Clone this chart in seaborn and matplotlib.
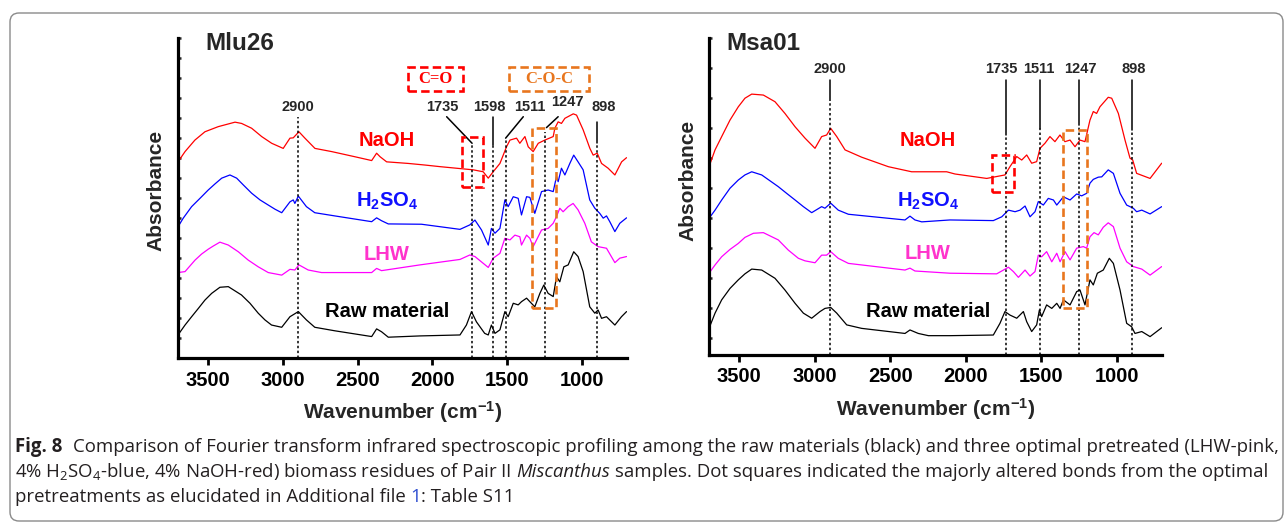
import numpy as np
import matplotlib
matplotlib.use('Agg')
import matplotlib.pyplot as plt
import seaborn as sns
from matplotlib.patches import Rectangle, FancyBboxPatch
from matplotlib.transforms import IdentityTransform
from matplotlib import font_manager

# ---------------- data (wavenumber cm-1, stacked absorbance a.u.) ----------------
mlu_naoh_wn = [3700, 3653, 3587, 3520, 3431, 3319, 3275, 3208, 3141, 3074, 2997, 2952, 2930, 2892, 2852,
               2785, 2673, 2519, 2406, 2373, 2350, 2306, 2161, 2050, 1950, 1727, 1661, 1627, 1594, 1549,
               1505, 1482, 1438, 1416, 1382, 1360, 1327, 1293, 1249, 1193, 1182, 1160, 1138, 1115, 1059,
               1037, 993, 948, 926, 899, 870, 826, 781, 736, 703]
mlu_naoh = [6.13, 6.45, 6.81, 7.07, 7.23, 7.37, 7.33, 7.18, 6.92, 6.71, 6.55, 6.87, 6.88, 7.07, 6.87,
            6.55, 6.45, 6.29, 6.17, 6.40, 6.29, 6.13, 6.08, 6.03, 5.98, 5.88, 5.82, 5.62, 5.82, 6.08,
            6.60, 6.81, 6.87, 6.71, 6.92, 6.60, 6.45, 6.71, 6.81, 6.92, 7.18, 7.38, 7.33, 7.49, 7.63,
            7.59, 7.13, 6.55, 6.34, 6.40, 6.08, 5.93, 5.72, 6.13, 6.26]

mlu_h2so4_wn = [3700, 3665, 3609, 3553, 3498, 3453, 3408, 3353, 3308, 3264, 3208, 3152, 3097, 3052, 3007,
                2952, 2930, 2919, 2896, 2842, 2786, 2652, 2406, 2373, 2340, 2295, 2073, 1816, 1750, 1716,
                1672, 1627, 1606, 1582, 1549, 1516, 1494, 1460, 1427, 1405, 1371, 1349, 1316, 1271, 1227,
                1193, 1171, 1160, 1138, 1115, 1082, 1056, 1027, 993, 949, 915, 882, 859, 837, 815,
                781, 748, 703]
mlu_h2so4 = [4.10, 4.37, 4.73, 4.99, 5.25, 5.44, 5.62, 5.72, 5.62, 5.41, 5.15, 4.94, 4.78, 4.65, 4.54,
             4.88, 4.94, 4.83, 5.06, 4.73, 4.54, 4.44, 4.26, 4.38, 4.29, 4.19, 4.18, 4.02, 4.16, 4.31,
             4.00, 3.53, 4.05, 3.90, 4.05, 4.94, 4.73, 5.04, 4.99, 4.47, 5.04, 5.02, 4.52, 5.20, 5.25,
             5.20, 5.67, 5.51, 5.93, 5.72, 6.08, 6.34, 6.13, 5.88, 4.94, 4.68, 4.52, 4.37, 4.44, 4.26,
             3.95, 4.21, 4.38]

mlu_lhw_wn = [3700, 3653, 3586, 3542, 3498, 3464, 3420, 3364, 3297, 3231, 3164, 3097, 3007, 2952, 2919,
              2892, 2830, 2741, 2406, 2373, 2340, 2083, 1816, 1750, 1716, 1627, 1594, 1549, 1516, 1482,
              1449, 1416, 1405, 1371, 1349, 1327, 1271, 1227, 1193, 1171, 1149, 1127, 1093, 1060, 1027,
              982, 938, 893, 837, 781, 748, 703]
mlu_lhw = [2.67, 2.70, 3.06, 3.25, 3.40, 3.50, 3.62, 3.53, 3.32, 3.06, 2.85, 2.67, 2.59, 2.77, 2.75,
           2.91, 2.75, 2.67, 2.67, 2.80, 2.73, 2.91, 3.08, 3.22, 3.17, 2.83, 3.12, 3.27, 3.74, 3.69,
           3.84, 3.79, 3.53, 3.84, 3.74, 3.48, 4.00, 4.05, 4.21, 4.42, 4.68, 4.57, 4.73, 4.83, 4.63,
           4.21, 3.63, 3.48, 3.43, 2.98, 3.12, 3.17]

mlu_raw_wn = [3700, 3653, 3609, 3564, 3520, 3475, 3420, 3364, 3276, 3219, 3164, 3119, 3075, 3007, 2952,
              2896, 2842, 2786, 2652, 2406, 2373, 2340, 2295, 2083, 1816, 1773, 1739, 1706, 1651, 1627,
              1606, 1582, 1549, 1516, 1494, 1460, 1427, 1405, 1371, 1349, 1316, 1282, 1256, 1227, 1193,
              1171, 1149, 1122, 1093, 1056, 1027, 993, 949, 915, 893, 870, 837, 781, 737, 703]
mlu_raw = [0.72, 1.03, 1.29, 1.55, 1.81, 2.02, 2.21, 2.23, 1.97, 1.71, 1.40, 1.19, 1.03, 0.96, 1.29,
           1.45, 1.19, 0.96, 0.85, 0.67, 0.91, 0.82, 0.65, 0.69, 0.72, 1.03, 1.45, 1.13, 0.77, 0.72,
           1.03, 0.77, 0.88, 1.45, 1.29, 1.71, 1.66, 1.76, 1.87, 1.76, 1.60, 2.02, 2.28, 2.02, 1.92,
           2.54, 2.38, 2.85, 2.91, 3.32, 3.17, 2.70, 1.60, 1.40, 1.50, 1.24, 1.29, 1.03, 1.29, 1.45]

msa_naoh_wn = [3700, 3660, 3616, 3561, 3506, 3462, 3417, 3340, 3263, 3197, 3130, 3064, 2998, 2954, 2921,
               2894, 2854, 2799, 2689, 2512, 2358, 2126, 2071, 1861, 1740, 1707, 1662, 1629, 1596, 1563,
               1530, 1508, 1475, 1442, 1409, 1376, 1343, 1309, 1276, 1243, 1210, 1177, 1155, 1133, 1111,
               1056, 1033, 989, 945, 912, 894, 868, 779, 702]
msa_naoh = [5.94, 6.47, 6.89, 7.41, 7.83, 8.10, 8.23, 8.20, 7.99, 7.62, 7.20, 6.84, 6.52, 6.89, 6.94,
            7.15, 6.89, 6.47, 6.24, 5.94, 5.78, 5.78, 5.71, 5.57, 5.68, 5.94, 6.26, 6.15, 6.31, 6.05,
            6.10, 6.52, 6.68, 6.89, 6.73, 6.94, 6.73, 6.78, 6.57, 6.78, 6.73, 7.41, 7.68, 7.62, 7.83,
            8.13, 8.10, 7.62, 6.78, 6.21, 6.15, 5.73, 5.57, 6.05]

msa_h2so4_wn = [3700, 3660, 3616, 3561, 3506, 3462, 3417, 3351, 3241, 3186, 3130, 3075, 3020, 2954, 2932,
                2894, 2844, 2777, 2402, 2369, 2336, 2291, 2104, 1817, 1761, 1717, 1673, 1640, 1607, 1574,
                1541, 1519, 1486, 1453, 1419, 1397, 1353, 1309, 1265, 1232, 1199, 1177, 1155, 1122, 1099,
                1056, 1022, 978, 934, 890, 868, 834, 779, 702]
msa_h2so4 = [4.31, 4.57, 4.89, 5.26, 5.52, 5.68, 5.78, 5.68, 5.31, 5.10, 4.89, 4.68, 4.49, 4.68, 4.63,
             4.79, 4.57, 4.44, 4.26, 4.38, 4.26, 4.20, 4.26, 4.24, 4.36, 4.57, 4.52, 4.57, 4.70, 4.36,
             4.52, 4.84, 4.73, 4.94, 4.89, 4.73, 4.99, 4.89, 5.08, 5.02, 5.10, 5.42, 5.54, 5.61, 5.62,
             5.84, 5.73, 5.10, 4.73, 4.63, 4.52, 4.57, 4.45, 4.68]

msa_lhw_wn = [3700, 3660, 3616, 3561, 3506, 3462, 3406, 3340, 3241, 3175, 3108, 3064, 2998, 2954, 2921,
              2894, 2844, 2777, 2402, 2369, 2336, 2104, 1795, 1750, 1717, 1684, 1651, 1607, 1574, 1541,
              1519, 1497, 1464, 1430, 1397, 1375, 1342, 1309, 1265, 1221, 1199, 1177, 1150, 1122, 1089,
              1056, 1022, 978, 934, 890, 834, 779, 702]
msa_lhw = [2.58, 2.84, 3.10, 3.33, 3.52, 3.71, 3.84, 3.86, 3.63, 3.31, 3.05, 2.97, 2.91, 3.15, 3.15,
           3.26, 3.05, 2.89, 2.68, 2.74, 2.65, 2.58, 2.56, 2.68, 2.77, 2.63, 2.45, 2.68, 2.49, 2.63,
           3.15, 3.10, 3.26, 2.94, 3.21, 2.94, 3.26, 3.00, 3.37, 3.42, 3.37, 3.73, 3.86, 3.79, 4.03,
           4.17, 4.05, 3.37, 2.94, 2.79, 2.71, 2.52, 2.79]

msa_raw_wn = [3700, 3660, 3616, 3561, 3506, 3462, 3417, 3351, 3263, 3197, 3130, 3075, 3020, 2965, 2932,
              2894, 2854, 2788, 2689, 2402, 2369, 2314, 2247, 2104, 1817, 1773, 1740, 1707, 1662, 1618,
              1596, 1563, 1530, 1512, 1497, 1464, 1430, 1397, 1375, 1353, 1309, 1265, 1243, 1210, 1177,
              1155, 1128, 1089, 1049, 1022, 978, 934, 901, 879, 834, 779, 702]
msa_raw = [0.84, 1.32, 1.74, 2.10, 2.37, 2.56, 2.71, 2.68, 2.42, 2.05, 1.63, 1.32, 1.16, 1.37, 1.47,
           1.50, 1.32, 0.95, 0.84, 0.68, 0.79, 0.68, 0.61, 0.61, 0.63, 1.00, 1.37, 1.26, 1.16, 1.37,
           1.05, 0.74, 0.95, 1.42, 1.21, 1.58, 1.47, 1.63, 1.47, 1.74, 1.58, 2.00, 2.05, 1.58, 2.37,
           2.21, 2.58, 2.68, 3.05, 2.89, 2.05, 1.00, 0.89, 0.68, 0.74, 0.58, 0.86]

series_names = ['NaOH', 'H$_2$SO$_4$', 'LHW', 'Raw material']
line_colors = ['#ff0000', '#0000ff', '#ff00ff', '#000000']
text_colors = ['#ff0000', '#1010ff', '#ff33cc', '#000000']
xtick_vals = [3500, 3000, 2500, 2000, 1500, 1000]

mlu_peaks = [2900, 1735, 1598, 1511, 1247, 898]
msa_peaks = [2900, 1735, 1511, 1247, 898]

RED = '#ff0000'
ORANGE = '#e8761e'

# ---------------- figure ----------------
sns.set_style('ticks')
plt.rcParams['font.family'] = ['Liberation Sans', 'DejaVu Sans']
plt.rcParams['mathtext.default'] = 'regular'

W, H = 1287, 526
fig = plt.figure(figsize=(W / 100, H / 100), dpi=100)


def px_axes(l, t, r, b):
    return fig.add_axes([l / W, 1 - b / H, (r - l) / W, (b - t) / H])


def style_axes(ax, yticks, ylab_xy):
    ax.set_xlim(3700, 700)
    ax.set_ylim(0, 10)
    ax.set_xticks(xtick_vals)
    ax.set_xticklabels([str(v) for v in xtick_vals], fontweight='bold', fontsize=14.5)
    ax.set_yticks(yticks)
    ax.set_yticklabels([])
    for s in ['top', 'right']:
        ax.spines[s].set_visible(False)
    for s in ['left', 'bottom']:
        ax.spines[s].set_linewidth(2.3)
        ax.spines[s].set_color('black')
    ax.tick_params(axis='x', direction='out', length=5, width=2, pad=4, colors='black')
    ax.tick_params(axis='y', direction='in', length=2.2, width=1.8)
    ax.set_xlabel('Wavenumber (cm$^{-1}$)', fontsize=15, fontweight='bold', labelpad=7)
    ax.set_ylabel('Absorbance', fontsize=15, fontweight='bold')
    ax.yaxis.set_label_coords(*ylab_xy)


def draw_spectra(ax, data):
    for (wn, ab), col in zip(data, line_colors):
        sns.lineplot(x=wn, y=ab, ax=ax, color=col, lw=0.9, sort=False, legend=False)


def draw_names(ax, x, ys):
    for name, y, col in zip(series_names, ys, text_colors):
        ax.text(x, y, name, color=col, fontsize=14.5, fontweight='bold', ha='center', va='center')


def dash_box(ax, x0, x1, y0, y1, col):
    ax.add_patch(Rectangle((x0, y0), x1 - x0, y1 - y0, fill=False, ec=col, lw=1.9,
                           ls=(0, (3.2, 1.6)), clip_on=False, zorder=5))


dot = dict(color='black', lw=1.1, ls=(0, (1.6, 1.6)), clip_on=False)
solid = dict(color='black', lw=1.1, clip_on=False)
plab = dict(fontsize=10.5, fontweight='bold', ha='center', va='center')

# ---------------- left panel: Mlu26 ----------------
ax1 = px_axes(178, 38, 627, 358)
draw_spectra(ax1, [(mlu_naoh_wn, mlu_naoh), (mlu_h2so4_wn, mlu_h2so4),
                   (mlu_lhw_wn, mlu_lhw), (mlu_raw_wn, mlu_raw)])
style_axes(ax1, np.arange(0, 10.01, 0.625), (-0.027, 0.525))
ax1.text(3520, 9.84, 'Mlu26', fontsize=17.5, fontweight='bold', ha='left', va='center')
draw_names(ax1, 2306, [6.81, 4.91, 3.25, 1.44])

mlu_lab_x = [2900, 1937, 1618, 1352, 1098, 858]
mlu_lab_y = [7.84, 7.84, 7.84, 7.84, 8.01, 7.84]
mlu_leader = [None, (1905, 7.54, 1735, 6.71), (1598, 7.54, 1598, 6.66),
              (1393, 7.54, 1511, 6.87), (1160, 7.54, 1238, 7.2), (898, 7.38, 898, 6.71)]
mlu_dot_top = [7.54, 6.71, 6.66, 6.87, 7.05, 6.71]
for pk, lx, ly, ld, dt in zip(mlu_peaks, mlu_lab_x, mlu_lab_y, mlu_leader, mlu_dot_top):
    ax1.text(lx, ly, str(pk), **plab)
    if ld:
        ax1.plot([ld[0], ld[2]], [ld[1], ld[3]], **solid)
    ax1.plot([pk, pk], [0, dt], **dot)

dash_box(ax1, 2166, 1794, 8.35, 9.10, RED)
ax1.text(1980, 8.72, 'C=O', color=RED, fontsize=12, fontweight='bold', family='Liberation Serif',
         ha='center', va='center')
dash_box(ax1, 1487, 952, 8.34, 9.10, ORANGE)
ax1.text(1220, 8.72, 'C-O-C', color=ORANGE, fontsize=12, fontweight='bold', family='Liberation Serif',
         ha='center', va='center')
dash_box(ax1, 1805, 1661, 5.35, 6.92, RED)
dash_box(ax1, 1337, 1175, 1.55, 7.18, ORANGE)

# ---------------- right panel: Msa01 ----------------
ax2 = px_axes(709, 38, 1162, 355)
draw_spectra(ax2, [(msa_naoh_wn, msa_naoh), (msa_h2so4_wn, msa_h2so4),
                   (msa_lhw_wn, msa_lhw), (msa_raw_wn, msa_raw)])
style_axes(ax2, np.arange(10, 0, -0.946), (-0.026, 0.552))
ax2.text(3583, 9.84, 'Msa01', fontsize=17.5, fontweight='bold', ha='left', va='center')
draw_names(ax2, 2250, [6.78, 4.86, 3.19, 1.36])

msa_lab_x = [2900, 1762, 1513, 1243, 886]
msa_solid_bot = [8.04, 6.94, 7.16, 7.26, 7.10]
for pk, lx, sb in zip(msa_peaks, msa_lab_x, msa_solid_bot):
    ax2.text(lx, 9.02, str(pk), **plab)
    ax2.plot([pk, pk], [8.68, sb], **solid)
    ax2.plot([pk, pk], [0, sb], **dot)

dash_box(ax2, 1823, 1678, 5.15, 6.31, RED)
dash_box(ax2, 1358, 1195, 1.47, 7.10, ORANGE)

# ---------------- frame and caption ----------------
frame = FancyBboxPatch((10, H - 521), 1273, 508, boxstyle='round,pad=0,rounding_size=9',
                       fill=False, ec='#8a8a8a', lw=1.0, transform=IdentityTransform())
fig.add_artist(frame)

names = {f.name for f in font_manager.fontManager.ttflist}
cap_font = 'Open Sans' if 'Open Sans' in names else 'DejaVu Sans'
cap_col = '#231f20'
rend = fig.canvas.get_renderer()


def text_w(s, size, **kw):
    t = fig.text(0, 0, s, fontsize=size, family=cap_font, transform=IdentityTransform(), **kw)
    w = t.get_window_extent(rend).width
    t.remove()
    return w


line1 = ('Comparison of Fourier transform infrared spectroscopic profiling among the raw materials '
         '(black) and three optimal pretreated (LHW-pink,')
trial = 10.0
w_trial = text_w('Fig. 8', trial, fontweight='bold') + text_w(line1, trial) + 0.8 * trial
cap_size = trial * 1262 / w_trial
space = text_w('a a', cap_size) - text_w('aa', cap_size)


def caption_line(segments, x, base):
    for s, kw, gap in segments:
        t = fig.text(x, H - base, s, fontsize=cap_size, family=cap_font, color=kw.pop('color', cap_col),
                     transform=IdentityTransform(), va='baseline', ha='left', **kw)
        x += t.get_window_extent(rend).width + gap


caption_line([('Fig. 8', dict(fontweight='bold'), 0.8 * cap_size),
              (line1, {}, 0)], 15, 452)
caption_line([('4% H$_2$SO$_4$-blue, 4% NaOH-red) biomass residues of Pair II', {}, space),
              ('Miscanthus', dict(style='italic'), space),
              ('samples. Dot squares indicated the majorly altered bonds from the optimal', {}, 0)], 15, 477)
caption_line([('pretreatments as elucidated in Additional file', {}, space),
              ('1', dict(color='#2f4fd0'), 0),
              (': Table S11', {}, 0)], 15, 502)

fig.savefig('out.png', dpi=100)
